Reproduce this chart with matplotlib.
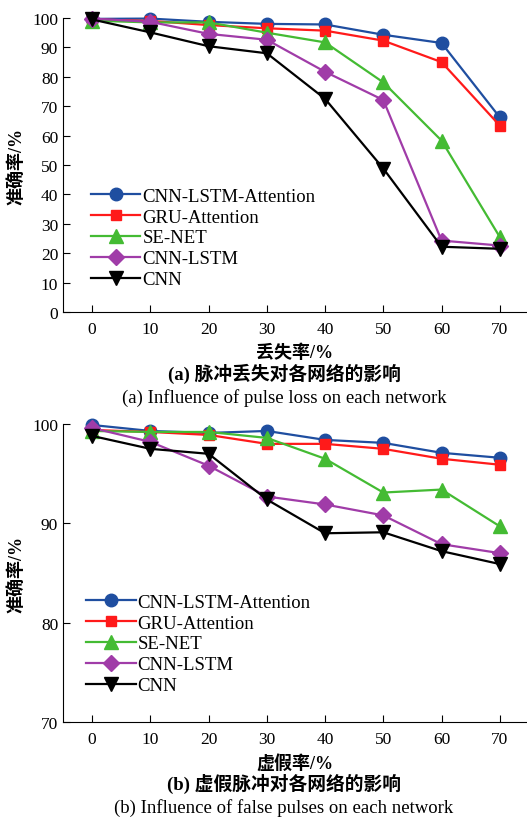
import matplotlib
matplotlib.use('Agg')
import matplotlib.pyplot as plt

# Fonts: Times-like for Latin, CJK fallback for Chinese
plt.rcParams['font.family'] = ['Liberation Serif', 'Noto Sans CJK SC']

rates = [0, 10, 20, 30, 40, 50, 60, 70]
names = ['CNN-LSTM-Attention', 'GRU-Attention', 'SE-NET', 'CNN-LSTM', 'CNN']

# (a) pulse loss
loss_cnn_lstm_att = [99.7, 99.8, 98.7, 98.0, 97.8, 94.3, 91.5, 66.2]
loss_gru_att = [99.5, 99.0, 97.6, 96.5, 95.7, 92.3, 85.0, 63.4]
loss_se_net = [99.1, 98.5, 98.5, 95.0, 91.7, 78.1, 58.3, 25.5]
loss_cnn_lstm = [99.8, 98.7, 94.6, 92.6, 81.7, 72.1, 24.3, 22.6]
loss_cnn = [99.5, 95.1, 90.4, 88.0, 72.5, 48.8, 22.2, 21.5]

# (b) false pulses
false_cnn_lstm_att = [99.9, 99.3, 99.1, 99.3, 98.4, 98.1, 97.1, 96.6]
false_gru_att = [99.4, 99.2, 98.9, 98.0, 98.0, 97.5, 96.5, 95.9]
false_se_net = [99.3, 99.2, 99.2, 98.6, 96.5, 93.1, 93.4, 89.7]
false_cnn_lstm = [99.6, 98.2, 95.8, 92.7, 91.9, 90.8, 87.9, 87.0]
false_cnn = [98.8, 97.5, 97.0, 92.4, 89.0, 89.1, 87.2, 85.9]

colors = ['#1f4ea0', '#ff1a1a', '#44bb33', '#a03ca8', '#000000']
markers = ['o', 's', '^', 'D', 'v']
msizes = [9, 7.5, 9.5, 8, 9.5]

fig = plt.figure(figsize=(5.27, 8.2), dpi=100)
W, H = 527, 820


def make_axes(top_px, bottom_px):
    left_px, right_px = 63, 526
    return fig.add_axes([left_px / W, (H - bottom_px) / H,
                         (right_px - left_px) / W, (bottom_px - top_px) / H])


def draw_panel(ax, series, ylim, yticks, xlabel, legend_pos):
    for vals, name, c, m, ms in zip(series, names, colors, markers, msizes):
        ax.plot(rates, vals, color=c, marker=m, markersize=ms, linewidth=1.6,
                label=name, clip_on=False, zorder=3)
    ax.set_xlim(-5, 74.5)
    ax.set_ylim(*ylim)
    ax.set_xticks(rates)
    ax.set_yticks(yticks)
    ax.tick_params(direction='in', labelsize=12.5, length=5, width=0.8)
    ax.tick_params(axis='x', pad=6.5)
    ax.spines['top'].set_visible(False)
    ax.spines['right'].set_visible(False)
    ax.set_ylabel('准确率/%', fontsize=13, fontweight='bold', labelpad=5)
    ax.set_xlabel(xlabel, fontsize=13, fontweight='bold', labelpad=5)
    ax.legend(loc='center left', bbox_to_anchor=legend_pos, frameon=False,
              fontsize=13.5, handlelength=2.65, handletextpad=0.1,
              labelspacing=0.2, borderpad=0, borderaxespad=0)


ax1 = make_axes(19, 313)
draw_panel(ax1, [loss_cnn_lstm_att, loss_gru_att, loss_se_net, loss_cnn_lstm, loss_cnn],
           (0, 100), range(0, 101, 10), '丢失率/%', (0.06, 0.252))

ax2 = make_axes(425, 723)
draw_panel(ax2, [false_cnn_lstm_att, false_gru_att, false_se_net, false_cnn_lstm, false_cnn],
           (70, 100), [70, 80, 90, 100], '虚假率/%', (0.05, 0.262))

cx = 284 / W
fig.text(cx, 1 - 374 / H, '(a) 脉冲丢失对各网络的影响', ha='center', va='center',
         fontsize=13.5, fontweight='bold')
fig.text(cx, 1 - 398 / H, '(a) Influence of pulse loss on each network',
         ha='center', va='center', fontsize=13.5)
fig.text(cx, 1 - 784 / H, '(b) 虚假脉冲对各网络的影响', ha='center', va='center',
         fontsize=13.5, fontweight='bold')
fig.text(cx, 1 - 808 / H, '(b) Influence of false pulses on each network',
         ha='center', va='center', fontsize=13.5)

fig.savefig('out.png', dpi=100)
